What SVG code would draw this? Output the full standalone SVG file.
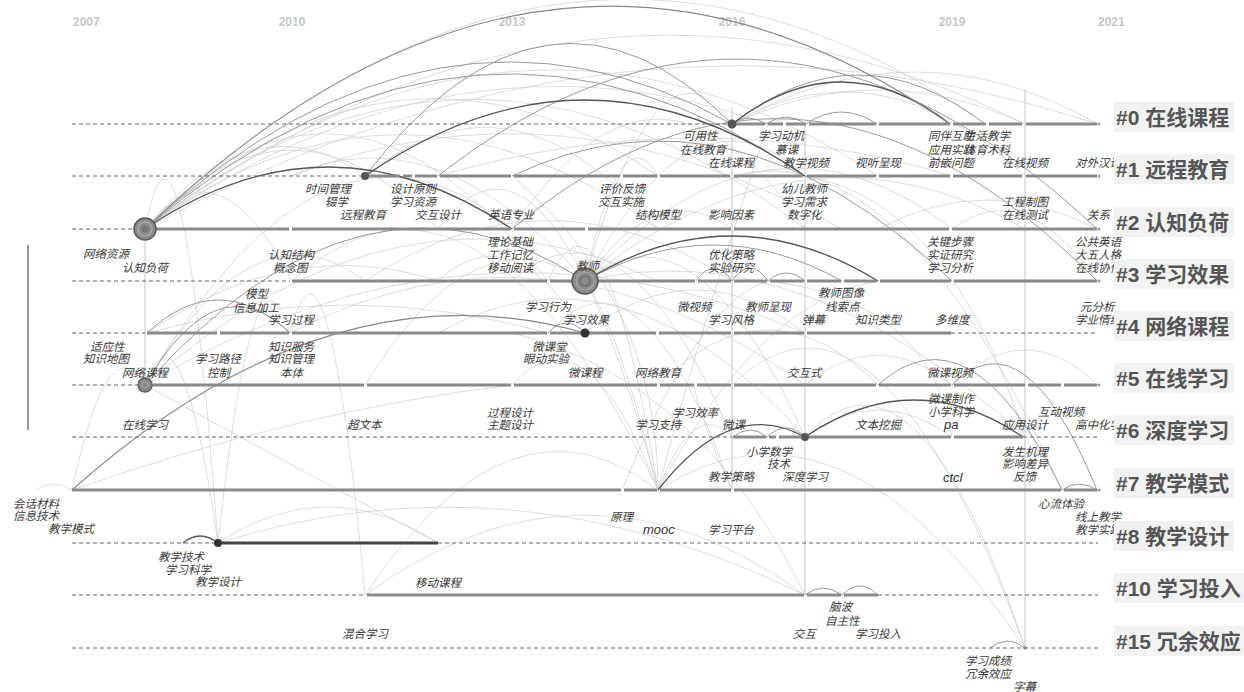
<svg xmlns="http://www.w3.org/2000/svg" width="1244" height="692" viewBox="0 0 1244 692">
<style>
.yr{font-family:"Liberation Sans",Arial,sans-serif;font-weight:bold;font-size:12px;fill:#c8c8c8}
.dash{stroke:#666;stroke-width:1;stroke-dasharray:4 3;fill:none}
.seg{stroke:#8a8a8a;stroke-width:3;fill:none}
.segd{stroke:#444;stroke-width:3;fill:none}
.lb{font-family:"Noto Sans CJK SC","Noto Sans CJK JP",sans-serif;font-style:italic;font-size:11.5px;fill:#3a3a3a}
.lt{font-family:"Liberation Sans",Arial,sans-serif;font-style:italic;font-size:13px;fill:#333}
.tb{fill:#f2f2f2}
.tt{font-family:"Liberation Sans","Noto Sans CJK SC",sans-serif;font-weight:bold;font-size:21px;fill:#555}
.dk{stroke:#555;stroke-width:1.3;fill:none}
.md{stroke:#9a9a9a;stroke-width:1;fill:none}
.lg{stroke:#d2d2d2;stroke-width:0.8;fill:none}
.vl{stroke:#c4c4c4;stroke-width:1;fill:none}
.end{fill:#999}
</style>
<rect width="1244" height="692" fill="#fff"/>
<g id="years">
<text class="yr" x="73" y="26">2007</text>
<text class="yr" x="292" y="26" text-anchor="middle">2010</text>
<text class="yr" x="512" y="26" text-anchor="middle">2013</text>
<text class="yr" x="732" y="26" text-anchor="middle">2016</text>
<text class="yr" x="952" y="26" text-anchor="middle">2019</text>
<text class="yr" x="1098" y="26">2021</text>
</g>
<g id="connectors">
<path class="vl" d="M732,107V490M805,124V595M1025,89V648M145,229V385"/>
<path d="M28,245V430" stroke="#777" stroke-width="1.5" fill="none"/>
<path class="lg" d="M145,229Q565,-170 985,124M145,229Q585,-96 1025,124M145,229Q621,-32 1098,124M145,229Q456,13 768,124M145,229Q401,-2 658,176M145,229Q346,15 548,281M145,229Q291,71 438,229M145,229Q255,97 365,176M145,229Q218,135 292,281M145,385Q328,73 512,229M145,385Q255,197 365,281M147,333Q292,233 438,281M147,333Q347,277 548,333M585,281Q658,17 732,124M585,281Q695,71 805,176M585,281Q768,85 952,229M585,281Q658,175 732,229M585,281Q621,111 658,176M292,281Q475,114 658,490M548,281Q603,154 658,490M512,385Q585,302 658,490M438,229Q548,80 658,490M658,490Q841,371 1025,648M658,490Q695,396 732,437M145,229Q181,44 218,543M145,385Q181,286 218,543M218,543Q328,471 438,543M218,543Q511,451 805,595M365,595Q585,435 805,595M365,595Q511,377 658,490M290,333Q327,186 365,595M805,437Q915,317 1025,648M732,385Q878,243 1025,648M732,124Q878,56 1025,124M732,124Q915,20 1098,124M732,124Q878,40 1025,176M35,490Q53,478 72,490M805,437Q878,383 952,437M585,281Q805,105 1025,229M438,281Q511,213 585,333M365,385Q475,207 585,281M365,176Q511,57 658,229M512,229Q658,9 805,229M290,176Q437,111 585,281M585,333Q695,247 805,333M658,385Q768,275 878,385M805,385Q878,325 952,385M952,385Q1025,315 1098,385M878,229Q987,171 1097,229M952,229Q1024,175 1097,281M72,490Q108,322 145,385M218,543Q254,212 290,333M512,281Q622,181 732,437M585,281Q695,191 805,437M548,333Q640,228 732,490M145,229Q400,40 658,229M145,229Q470,-30 805,229M145,229Q520,-60 878,176M145,385Q400,160 658,281M145,385Q470,190 805,333M290,333Q548,200 805,385M365,281Q548,160 732,281M438,333Q620,230 805,437M512,176Q658,300 658,490M585,281Q620,330 658,490M622,490Q700,300 768,281M658,490Q700,330 768,124M658,490Q760,300 878,281M694,385Q700,420 732,490M585,281Q800,230 1025,437M732,176Q900,130 1062,490M805,176Q950,200 1025,437M768,281Q930,300 952,437M438,176Q700,100 952,176M292,176Q560,70 842,229M512,333Q700,380 805,595M145,385Q300,470 438,543M72,490Q300,410 512,385"/>
<path class="md" d="M145,229Q438,-40 732,124M145,229Q475,-52 805,176M365,176Q548,-60 732,124M585,281Q713,209 842,281M732,124Q858,26 985,124M147,333Q218,267 290,333M145,385Q365,137 585,281M438,176Q767,-82 1097,229M512,229Q804,-15 1097,281M878,385Q970,302 1062,490M952,385Q1024,312 1097,490M548,333Q566,313 585,333M696,281Q714,255 732,281M732,281Q750,255 768,281M768,281Q786,265 805,281M733,437Q750,423 767,437M767,437Q786,419 805,437M512,176Q732,71 952,281M805,595Q823,581 842,595M842,595Q860,577 878,595M990,648Q1007,634 1025,648M1062,490Q1079,478 1097,490M732,124Q749,112 766,124M766,124Q786,110 806,124M806,124Q841,100 877,124M145,385Q217,261 290,333"/>
<path class="dk" d="M145,229Q328,105 512,229M365,176Q585,24 805,176M585,281Q731,191 878,281M732,124Q841,40 950,124M805,437Q914,363 1023,437M658,490Q731,396 805,437M183,543Q200,529 218,543"/>
<path d="M72,490Q330,260 585,333M145,229Q547,-156 950,124" stroke="#888" stroke-width="1.1" fill="none"/>
</g>
<g id="cluster-0">
<path class="dash" d="M72,124H732"/>
<path class="seg" d="M736,124H765M768,124H783M786,124H806M809,124H876M879,124H950M953,124H986M989,124H1022M1026,124H1097"/>
<circle cx="732" cy="124" r="4.5" fill="#555"/>
<circle class="end" cx="1099" cy="124" r="1.5"/>
<text class="lb" x="683" y="140">可用性</text>
<text class="lb" x="680" y="154">在线教育</text>
<text class="lb" x="708" y="167">在线课程</text>
<text class="lb" x="758" y="140">学习动机</text>
<text class="lb" x="775" y="154">慕课</text>
<text class="lb" x="783" y="167">教学视频</text>
<text class="lb" x="855" y="167">视听呈现</text>
<text class="lb" x="928" y="140">同伴互助</text>
<text class="lb" x="964" y="140">生活教学</text>
<text class="lb" x="928" y="154">应用实践</text>
<text class="lb" x="964" y="154">体育术科</text>
<text class="lb" x="928" y="167">前嵌问题</text>
<text class="lb" x="1002" y="167">在线视频</text>
<text class="lb" x="1075" y="167">对外汉语</text>
</g>
<g id="cluster-1">
<path class="dash" d="M72,176H365"/>
<path class="seg" d="M369,176H400M403,176H412M415,176H437M440,176H511M514,176H620M623,176H657M660,176H730M734,176H803M807,176H876M879,176H950M953,176H1022M1026,176H1097"/>
<circle cx="365" cy="176" r="4" fill="#555"/>
<circle class="end" cx="1099" cy="176" r="1.5"/>
<text class="lb" x="305" y="193">时间管理</text>
<text class="lb" x="325" y="206">辍学</text>
<text class="lb" x="340" y="219">远程教育</text>
<text class="lb" x="390" y="193">设计原则</text>
<text class="lb" x="390" y="206">学习资源</text>
<text class="lb" x="415" y="219">交互设计</text>
<text class="lb" x="488" y="219">英语专业</text>
<text class="lb" x="599" y="193">评价反馈</text>
<text class="lb" x="598" y="206">交互实施</text>
<text class="lb" x="635" y="219">结构模型</text>
<text class="lb" x="708" y="219">影响因素</text>
<text class="lb" x="781" y="193">幼儿教师</text>
<text class="lb" x="781" y="206">学习需求</text>
<text class="lb" x="787" y="219">数字化</text>
<text class="lb" x="1002" y="206">工程制图</text>
<text class="lb" x="1002" y="219">在线测试</text>
<text class="lb" x="1087" y="219">关系</text>
</g>
<g id="cluster-2">
<path class="dash" d="M72,229H135"/>
<path class="seg" d="M156,229H289M292,229H511M514,229H585M588,229H731M734,229H949M952,229H1097"/>
<circle cx="145" cy="229" r="11" fill="#8a8a8a" stroke="#5a5a5a" stroke-width="1.5"/>
<circle cx="145" cy="229" r="7" fill="none" stroke="#b0b0b0" stroke-width="1.2"/>
<circle cx="145" cy="229" r="3.5" fill="#777"/>
<circle class="end" cx="1099" cy="229" r="1.5"/>
<text class="lb" x="83" y="258">网络资源</text>
<text class="lb" x="122" y="272">认知负荷</text>
<text class="lb" x="268" y="259">认知结构</text>
<text class="lb" x="273" y="272">概念图</text>
<text class="lb" x="487" y="246">理论基础</text>
<text class="lb" x="487" y="259">工作记忆</text>
<text class="lb" x="487" y="272">移动阅读</text>
<text class="lb" x="708" y="259">优化策略</text>
<text class="lb" x="708" y="272">实验研究</text>
<text class="lb" x="927" y="246">关键步骤</text>
<text class="lb" x="927" y="259">实证研究</text>
<text class="lb" x="927" y="272">学习分析</text>
<text class="lb" x="1075" y="246">公共英语</text>
<text class="lb" x="1075" y="259">大五人格</text>
<text class="lb" x="1075" y="272">在线协作</text>
</g>
<g id="cluster-3">
<path class="dash" d="M72,281H290"/>
<path class="seg" d="M292,281H547M550,281H695M698,281H731M734,281H767M770,281H804M807,281H841M844,281H877M880,281H951M954,281H1097"/>
<circle cx="585" cy="281" r="13" fill="#8a8a8a" stroke="#5a5a5a" stroke-width="1.5"/>
<circle cx="585" cy="281" r="9" fill="none" stroke="#a8a8a8" stroke-width="1.2"/>
<circle cx="585" cy="281" r="5" fill="none" stroke="#6a6a6a" stroke-width="1.2"/>
<circle class="end" cx="1099" cy="281" r="1.5"/>
<text class="lb" x="576" y="270">教师</text>
<text class="lb" x="818" y="297">教师图像</text>
<text class="lb" x="245" y="298">模型</text>
<text class="lb" x="233" y="312">信息加工</text>
<text class="lb" x="268" y="324">学习过程</text>
<text class="lb" x="525" y="311">学习行为</text>
<text class="lb" x="563" y="324">学习效果</text>
<text class="lb" x="677" y="311">微视频</text>
<text class="lb" x="708" y="324">学习风格</text>
<text class="lb" x="745" y="311">教师呈现</text>
<text class="lb" x="802" y="324">弹幕</text>
<text class="lb" x="825" y="311">线索点</text>
<text class="lb" x="855" y="324">知识类型</text>
<text class="lb" x="935" y="324">多维度</text>
<text class="lb" x="1080" y="311">元分析</text>
<text class="lb" x="1075" y="324">学业情绪</text>
</g>
<g id="cluster-4">
<path class="dash" d="M72,333H145M951,333H1098"/>
<path class="seg" d="M147,333H217M220,333H289M292,333H547M550,333H581M589,333H656M659,333H731M734,333H804M807,333H951"/>
<circle cx="585" cy="333" r="4.5" fill="#333"/>
<text class="lb" x="90" y="351">适应性</text>
<text class="lb" x="83" y="363">知识地图</text>
<text class="lb" x="122" y="377">网络课程</text>
<text class="lb" x="195" y="363">学习路径</text>
<text class="lb" x="207" y="377">控制</text>
<text class="lb" x="268" y="351">知识服务</text>
<text class="lb" x="268" y="363">知识管理</text>
<text class="lb" x="280" y="377">本体</text>
<text class="lb" x="532" y="351">微课堂</text>
<text class="lb" x="523" y="363">眼动实验</text>
<text class="lb" x="568" y="377">微课程</text>
<text class="lb" x="635" y="377">网络教育</text>
<text class="lb" x="787" y="377">交互式</text>
<text class="lb" x="927" y="377">微课视频</text>
</g>
<g id="cluster-5">
<path class="dash" d="M72,385H138"/>
<path class="seg" d="M152,385H364M367,385H511M514,385H657M660,385H694M697,385H731M734,385H876M879,385H951M954,385H1025M1028,385H1061M1064,385H1097"/>
<circle cx="145" cy="385" r="7" fill="#888" stroke="#5a5a5a" stroke-width="1.3"/>
<circle cx="145" cy="385" r="3" fill="none" stroke="#aaa" stroke-width="1"/>
<circle class="end" cx="1099" cy="385" r="1.5"/>
<text class="lb" x="122" y="429">在线学习</text>
<text class="lb" x="347" y="429">超文本</text>
<text class="lb" x="487" y="417">过程设计</text>
<text class="lb" x="487" y="429">主题设计</text>
<text class="lb" x="672" y="417">学习效率</text>
<text class="lb" x="635" y="429">学习支持</text>
<text class="lb" x="722" y="429">微课</text>
<text class="lb" x="928" y="403">微课制作</text>
<text class="lb" x="928" y="416">小学科学</text>
<text class="lt" x="944" y="429">pa</text>
<text class="lb" x="855" y="429">文本挖掘</text>
<text class="lb" x="1002" y="429">应用设计</text>
<text class="lb" x="1038" y="416">互动视频</text>
<text class="lb" x="1075" y="429">高中化学</text>
</g>
<g id="cluster-6">
<path class="dash" d="M72,437H732M1023,437H1098"/>
<path class="seg" d="M733,437H766M769,437H776M779,437H801M809,437H951M954,437H1023"/>
<circle cx="805" cy="437" r="4" fill="#555"/>
<text class="lb" x="746" y="456">小学数学</text>
<text class="lb" x="767" y="468">技术</text>
<text class="lb" x="708" y="481">教学策略</text>
<text class="lb" x="782" y="481">深度学习</text>
<text class="lt" x="943" y="482">ctcl</text>
<text class="lb" x="1002" y="456">发生机理</text>
<text class="lb" x="1002" y="468">影响差异</text>
<text class="lb" x="1013" y="481">反馈</text>
</g>
<g id="cluster-7">
<path class="seg" d="M72,490H621M624,490H657M660,490H731M734,490H1061M1064,490H1097"/>
<circle class="end" cx="1099" cy="490" r="1.5"/>
<text class="lb" x="13" y="508">会话材料</text>
<text class="lb" x="13" y="520">信息技术</text>
<text class="lb" x="48" y="533">教学模式</text>
<text class="lb" x="610" y="521">原理</text>
<text class="lt" x="643" y="534">mooc</text>
<text class="lb" x="708" y="534">学习平台</text>
<text class="lb" x="1038" y="508">心流体验</text>
<text class="lb" x="1075" y="521">线上教学</text>
<text class="lb" x="1075" y="534">教学实践</text>
</g>
<g id="cluster-8">
<path class="dash" d="M72,543H218M438,543H1098"/>
<path class="segd" d="M222,543H438"/>
<circle cx="218" cy="543" r="4" fill="#333"/>
<text class="lb" x="158" y="561">教学技术</text>
<text class="lb" x="165" y="574">学习科学</text>
<text class="lb" x="195" y="586">教学设计</text>
</g>
<g id="cluster-10">
<path class="dash" d="M72,595H366M878,595H1098"/>
<path class="seg" d="M367,595H804M807,595H841M844,595H878"/>
<text class="lb" x="415" y="587">移动课程</text>
<text class="lb" x="829" y="611">脑波</text>
<text class="lb" x="825" y="625">自主性</text>
<text class="lb" x="342" y="638">混合学习</text>
<text class="lb" x="793" y="638">交互</text>
<text class="lb" x="855" y="638">学习投入</text>
</g>
<g id="cluster-15">
<path class="dash" d="M72,648H1098"/>
<circle cx="1025" cy="648" r="1.8" fill="#888"/>
<text class="lb" x="965" y="665">学习成绩</text>
<text class="lb" x="965" y="678">冗余效应</text>
<text class="lb" x="1013" y="691">字幕</text>
</g>
<g id="cluster-titles">
<g id="title-0"><rect class="tb" x="1114" y="102" width="120" height="30"/><text class="tt" x="1116" y="125">#0 在线课程</text></g>
<g id="title-1"><rect class="tb" x="1114" y="154" width="120" height="30"/><text class="tt" x="1116" y="177">#1 远程教育</text></g>
<g id="title-2"><rect class="tb" x="1114" y="207" width="120" height="30"/><text class="tt" x="1116" y="230">#2 认知负荷</text></g>
<g id="title-3"><rect class="tb" x="1114" y="259" width="120" height="30"/><text class="tt" x="1116" y="282">#3 学习效果</text></g>
<g id="title-4"><rect class="tb" x="1114" y="311" width="120" height="30"/><text class="tt" x="1116" y="334">#4 网络课程</text></g>
<g id="title-5"><rect class="tb" x="1114" y="363" width="120" height="30"/><text class="tt" x="1116" y="386">#5 在线学习</text></g>
<g id="title-6"><rect class="tb" x="1114" y="415" width="120" height="30"/><text class="tt" x="1116" y="438">#6 深度学习</text></g>
<g id="title-7"><rect class="tb" x="1114" y="468" width="120" height="30"/><text class="tt" x="1116" y="491">#7 教学模式</text></g>
<g id="title-8"><rect class="tb" x="1114" y="521" width="120" height="30"/><text class="tt" x="1116" y="544">#8 教学设计</text></g>
<g id="title-10"><rect class="tb" x="1114" y="573" width="130" height="30"/><text class="tt" x="1116" y="596">#10 学习投入</text></g>
<g id="title-15"><rect class="tb" x="1114" y="626" width="130" height="30"/><text class="tt" x="1116" y="649">#15 冗余效应</text></g>
</g>
</svg>
